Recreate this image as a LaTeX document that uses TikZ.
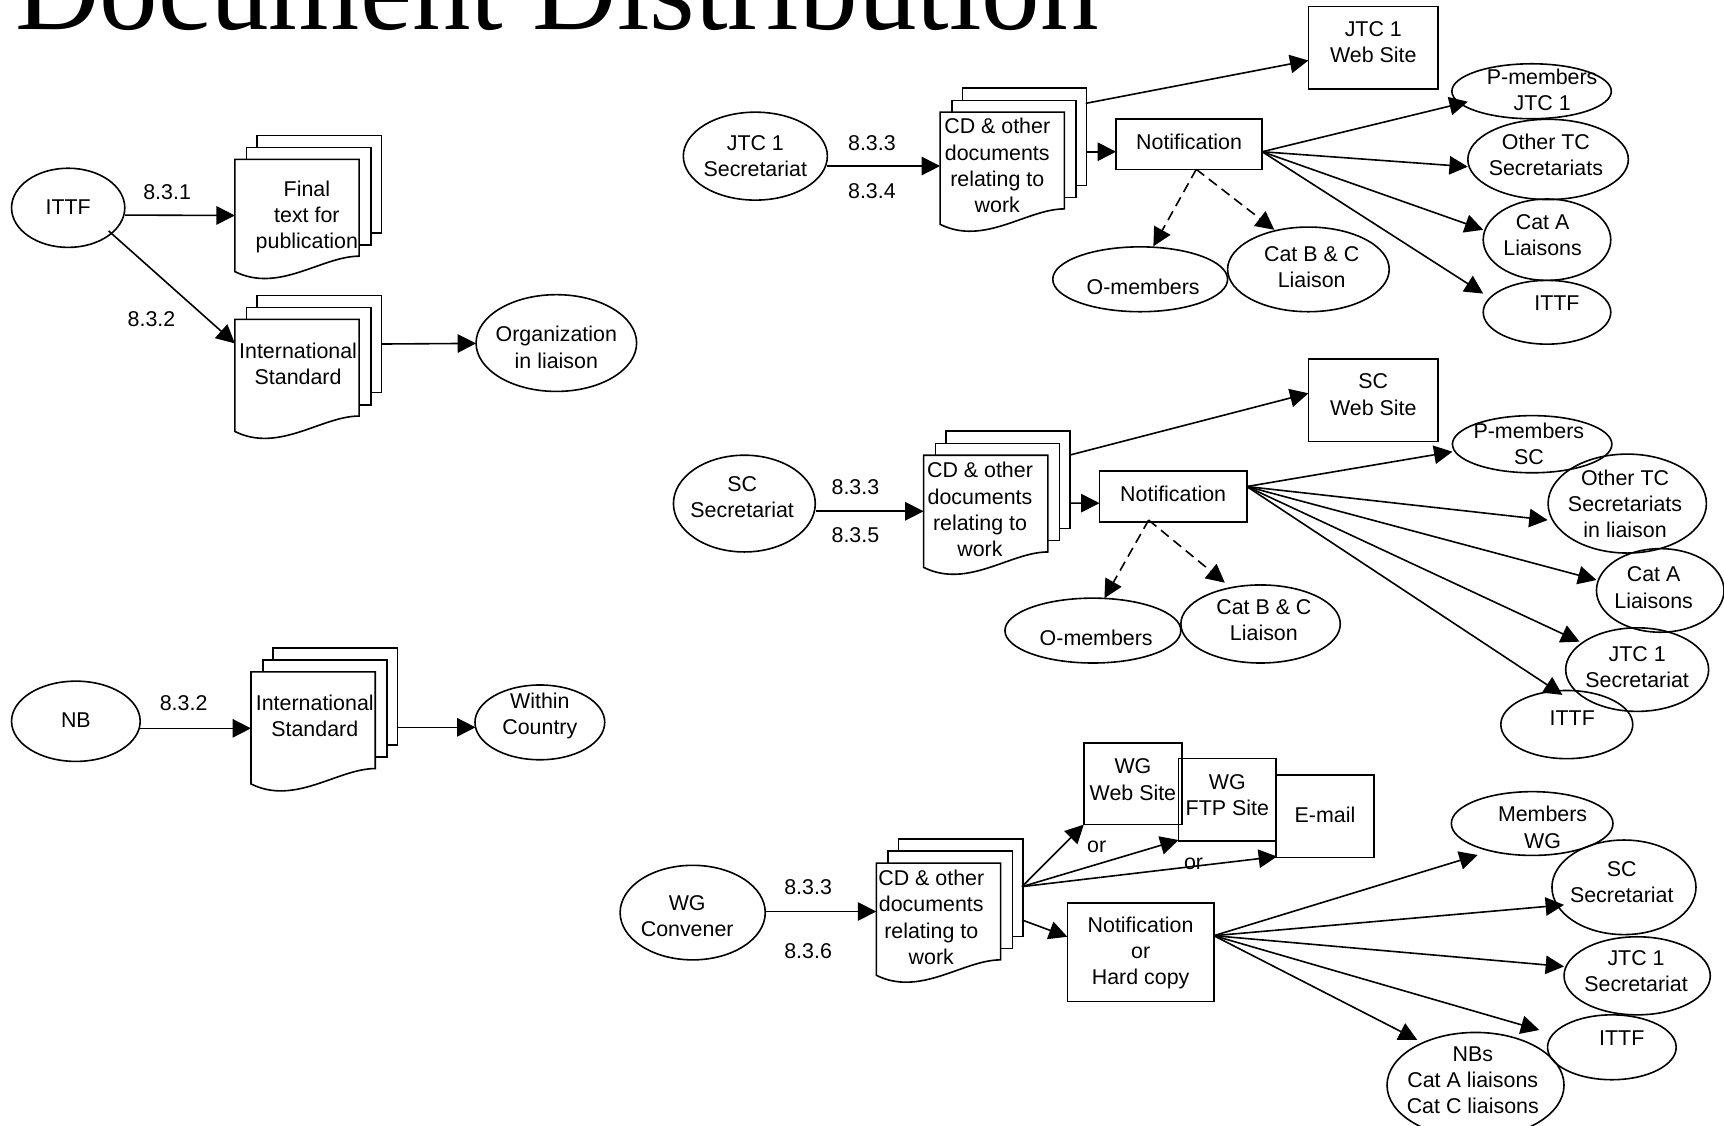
\documentclass[tikz,border=0pt]{standalone}
\usepackage{fontspec}
\setmainfont{Liberation Sans}
\newfontfamily\titlefont{Liberation Serif}
\usetikzlibrary{shapes.geometric,arrows.meta,calc}
\newlength\upx
\setlength\upx{0.5498pt}
\tikzset{
  arr/.style={-{Triangle[length=9.2pt,width=9.2pt]}},
  darr/.style={arr, dash pattern=on 5pt off 3pt},
  txt/.style={font=\fontsize{10.7}{13.1}\selectfont, align=center, inner sep=0pt},
  lbl/.style={txt},
  page/.style={draw, fill=white, inner sep=0pt, anchor=north west},
}
% ellipse: name, x, y, w, h, text, dx, dy
\newcommand{\EllN}[8]{%
  \node[draw, ellipse, inner sep=0pt, minimum width=#4*\upx, minimum height=#5*\upx] (#1) at (#2,#3) {};
  \node[txt] (#1-t) at ($(#1)+(#7,#8)$) {#6};}
% rectangle box: name, x, y, w, h, text, dx, dy
\newcommand{\RBoxN}[8]{%
  \node[draw, rectangle, inner sep=0pt, minimum width=#4*\upx, minimum height=#5*\upx] (#1) at (#2,#3) {};
  \node[txt] (#1-t) at ($(#1)+(#7,#8)$) {#6};}
% document stack: name, L, T, text, dx, dy
\newcommand{\DocN}[6]{%
  \node[page, minimum width=113*\upx, minimum height=88.5*\upx] (#1-c) at (#2+19.5,#3-22.5) {};
  \node[page, minimum width=113*\upx, minimum height=88.5*\upx] (#1-b) at (#2+10,#3-11.5) {};
  \draw[fill=white] (#2,#3) -- (#2+113,#3) -- (#2+113,#3+88)
     .. controls (#2+79,#3+88) and (#2+40,#3+122) .. (#2,#3+102) -- cycle;
  \node[inner sep=0pt, minimum width=113*\upx, minimum height=102*\upx] (#1) at (#2+56.5,#3+51) {};
  \node[txt] (#1-t) at ($(#1)+(#5,#6)$) {#4};}

\begin{document}
\begin{tikzpicture}[x=\upx, y=-\upx, line width=0.8pt]
\useasboundingbox (0,0) rectangle (1568,1024);

\node[anchor=base west, inner sep=0pt, font=\titlefont\fontsize{58.6}{60}\selectfont] (title) at (13,27) {Document Distribution};

% ---------- left top ----------
\EllN{ittf1}{62}{189}{103}{72}{ITTF}{0}{-1}
\DocN{final}{213.6}{145}{Final\\text for\\publication}{9}{1.5}
\DocN{is1}{213.6}{290.4}{International\\Standard}{1}{-10.2}
\EllN{org}{506}{312}{146}{88}{Organization\\in liaison}{0}{4}
\node[lbl] (l831) at (152,174.3) {8.3.1};
\node[lbl] (l832a) at (137.8,290) {8.3.2};
\draw[arr] ($(ittf1)+(51.5,6.6)$) -- ($(final)+(-56.5,0)$);
\draw[arr] ($(ittf1)+(36.8,21)$) -- ($(is1)+(-56.5,-29.1)$);
\draw[arr] (is1-c.east) -- ($(org)+(-73,0.3)$);

% ---------- NB ----------
\EllN{nb}{69}{656}{117}{73}{NB}{0}{-1}
\DocN{is2}{228.3}{611}{International\\Standard}{1.5}{-11}
\EllN{within}{491}{657}{118}{68}{Within\\Country}{0}{-6}
\node[lbl] (l832b) at (167,639.5) {8.3.2};
\draw[arr] ($(nb)+(58.3,6.4)$) -- ($(is2)+(-56.5,0.4)$);
\draw[arr] ($(is2)+(76,-0.5)$) -- ($(within)+(-58.5,4.5)$);

% ---------- JTC 1 ----------
\EllN{jtcsec}{687}{142}{131}{80}{JTC 1\\Secretariat}{0}{0}
\node[lbl] (l833a) at (793,130) {8.3.3};
\node[lbl] (l834) at (793,174) {8.3.4};
\DocN{cd1}{855}{102}{CD \& other\\documents\\relating to\\work}{-4.5}{-2.5}
\RBoxN{web1}{1249}{43.5}{118}{75}{JTC 1\\Web Site}{0}{-5}
\RBoxN{notif1}{1081.5}{131}{133}{46}{Notification}{0}{-2}
\EllN{pm1}{1393}{83}{145}{50}{P-members\\JTC 1}{9.6}{-1.2}
\EllN{oth1}{1408}{145}{146}{73}{Other TC\\Secretariats}{-2}{-4}
\EllN{cata1}{1407}{218}{116}{74}{Cat A\\Liaisons}{-4}{-4.3}
\EllN{ittf2}{1407}{284}{116}{58}{ITTF}{9}{-8}
\EllN{om1}{1037}{254}{159}{59}{O-members}{2.7}{6.7}
\EllN{cbc1}{1190}{245}{147}{77}{Cat B \& C\\Liaison}{3}{-1.7}
\draw[arr] ($(jtcsec)+(65,9)$) -- ($(cd1)+(-56.5,-2)$);
\draw[arr] ($(cd1)+(76,-59)$) -- ($(web1)+(-59,11.5)$);
\draw[arr] ($(cd1)+(76,-15)$) -- ($(notif1)+(-66.5,7)$);
\draw[arr] ($(notif1)+(66.5,7)$) -- ($(pm1)+(-58,9.5)$);
\draw[arr] ($(notif1)+(66.5,7)$) -- ($(oth1)+(-73,6.6)$);
\draw[arr] ($(notif1)+(66.5,7)$) -- ($(cata1)+(-58,-9)$);
\draw[arr] ($(notif1)+(66.5,7)$) -- ($(ittf2)+(-58,-17)$);
\draw[darr] ($(notif1)+(6.5,23)$) -- ($(om1)+(12,-30)$);
\draw[darr] ($(notif1)+(6.5,23)$) -- ($(cbc1)+(-31,-36)$);

% ---------- SC ----------
\EllN{scsec}{677}{458}{129}{88}{SC\\Secretariat}{-2}{-5.5}
\node[lbl] (l833b) at (778,443) {8.3.3};
\node[lbl] (l835) at (778,486.6) {8.3.5};
\DocN{cd2}{840}{414}{CD \& other\\documents\\relating to\\work}{-5.2}{-1.5}
\RBoxN{web2}{1249}{364}{118}{75}{SC\\Web Site}{0}{-5}
\RBoxN{notif2}{1067}{451.5}{134}{46}{Notification}{0}{-2}
\EllN{pm2}{1393.5}{404}{145}{52}{P-members\\SC}{-3}{0}
\EllN{oth2}{1480}{458}{144}{90}{Other TC\\Secretariats\\in liaison}{-2}{0.5}
\EllN{cata2}{1510}{537}{116}{76}{Cat A\\Liaisons}{-6}{-2.5}
\EllN{jtc2}{1489}{609}{130}{76}{JTC 1\\Secretariat}{0}{-2}
\EllN{ittf3}{1425}{659}{120}{62}{ITTF}{5}{-6}
\EllN{om2}{994}{573.5}{160}{59}{O-members}{3}{6.5}
\EllN{cbc2}{1146.5}{567.5}{145}{71}{Cat B \& C\\Liaison}{3}{-3.7}
\draw[arr] ($(scsec)+(65,7)$) -- ($(cd2)+(-56.5,0)$);
\draw[arr] ($(cd2)+(76,-51)$) -- ($(web2)+(-59,-6.3)$);
\draw[arr] ($(cd2)+(76,-7.4)$) -- ($(notif2)+(-67,6.1)$);
\draw[arr] ($(notif2)+(67,-9)$) -- ($(pm2)+(-72.5,6.8)$);
\draw[arr] ($(notif2)+(67,-9)$) -- ($(oth2)+(-72.4,15)$);
\draw[arr] ($(notif2)+(67,-9)$) -- ($(cata2)+(-58,-9.5)$);
\draw[arr] ($(notif2)+(67,-9)$) -- ($(jtc2)+(-52.4,-25.4)$);
\draw[arr] ($(notif2)+(67,-9)$) -- ($(ittf3)+(-4,-27)$);
\draw[darr] ($(notif2)+(-22.3,21.5)$) -- ($(om2)+(10.5,-29.5)$);
\draw[darr] ($(notif2)+(-22.3,21.5)$) -- ($(cbc2)+(-32.5,-37.5)$);

% ---------- WG ----------
\EllN{wgc}{630}{830}{132}{86}{WG\\Convener}{-5}{3}
\node[lbl] (l833c) at (735,806.4) {8.3.3};
\node[lbl] (l836) at (735,864.6) {8.3.6};
\DocN{cd3}{797}{785}{CD \& other\\documents\\relating to\\work}{-6.5}{-1.6}
\RBoxN{wgweb}{1030.4}{713}{89.3}{74}{WG\\Web Site}{0}{-4}
\RBoxN{wgftp}{1116.25}{727.5}{88.5}{75}{WG\\FTP Site}{0}{-4}
\RBoxN{email}{1205.1}{742.5}{89.2}{75}{E-mail}{0}{-1.5}
\node[lbl] (or1) at (997.5,770) {or};
\node[lbl] (or2) at (1085.5,785.8) {or};
\RBoxN{notif3}{1037.4}{866.25}{133.2}{89.5}{Notification\\or\\Hard copy}{0}{0.5}
\EllN{mwg}{1393.5}{749}{147}{58}{Members\\WG}{9.5}{3.5}
\EllN{scs3}{1477}{807}{131}{86}{SC\\Secretariat}{-2}{-5}
\EllN{jtc3}{1489}{887.5}{133}{71}{JTC 1\\Secretariat}{-1}{-4.5}
\EllN{ittf4}{1466}{952.5}{117}{59}{ITTF}{9}{-8.5}
\EllN{nbs}{1342}{987}{161}{96}{NBs\\Cat A liaisons\\Cat C liaisons}{-2.5}{-4.3}
\draw[arr] ($(wgc)+(66,-1)$) -- ($(cd3)+(-56.5,-7)$);
\draw[arr] ($(cd3)+(76,-29.6)$) -- ($(wgweb)+(-44.7,37)$);
\draw[arr] ($(cd3)+(76,-29.6)$) -- ($(wgftp)+(-44.25,36.5)$);
\draw[arr] ($(cd3)+(76,-29.6)$) -- ($(email)+(-43.6,36.5)$);
\draw[arr] ($(cd3)+(76,0.7)$) -- ($(notif3)+(-66.6,-14.25)$);
\draw[arr] ($(notif3)+(66.6,-15.25)$) -- ($(mwg)+(-49.5,28.6)$);
\draw[arr] ($(notif3)+(66.6,-15.25)$) -- ($(scs3)+(-54.5,16)$);
\draw[arr] ($(notif3)+(66.6,-15.25)$) -- ($(jtc3)+(-66.5,-8.5)$);
\draw[arr] ($(notif3)+(66.6,-15.25)$) -- ($(ittf4)+(-66,-15.7)$);
\draw[arr] ($(notif3)+(66.6,-15.25)$) -- ($(nbs)+(-53,-41.2)$);
\end{tikzpicture}
\end{document}
